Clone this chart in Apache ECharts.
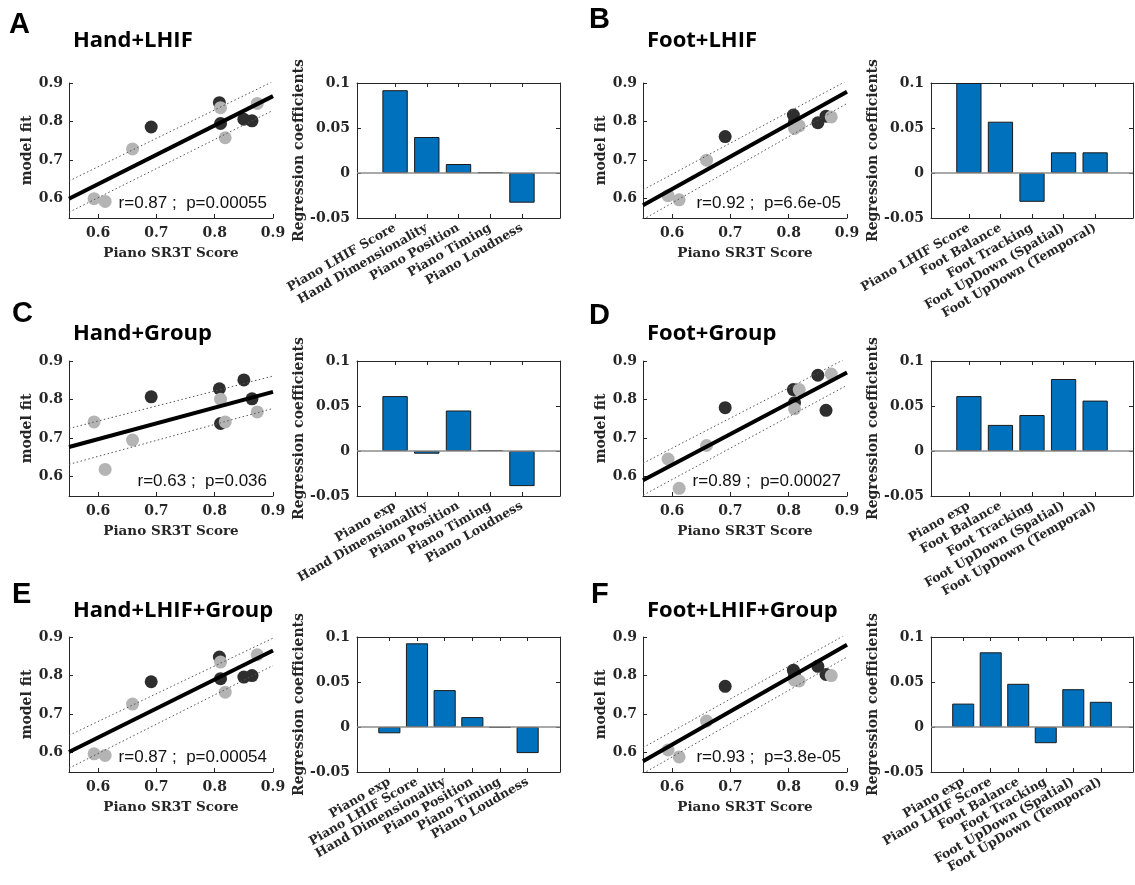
<!DOCTYPE html>
<html>
<head>
<meta charset="utf-8">
<script src="https://cdn.jsdelivr.net/npm/echarts@6/dist/echarts.min.js"></script>
<style>
html, body { margin: 0; padding: 0; background: #fff; }
#main { width: 1135px; height: 885px; }
</style>
</head>
<body>
<div id="main"></div>
<script>
// panel texts
var panelLetters = ['A', 'B', 'C', 'D', 'E', 'F'];
var panelTitles = ['Hand+LHIF', 'Foot+LHIF', 'Hand+Group', 'Foot+Group', 'Hand+LHIF+Group', 'Foot+LHIF+Group'];
var statTexts = ['r=0.87 ;  p=0.00055', 'r=0.92 ;  p=6.6e-05', 'r=0.63 ;  p=0.036',
	'r=0.89 ;  p=0.00027', 'r=0.87 ;  p=0.00054', 'r=0.93 ;  p=3.8e-05'];

// scatter: Piano SR3T Score (x) for the two groups
var sr3tLight = [0.593, 0.612, 0.659, 0.810, 0.818, 0.873];
var sr3tDark = [0.691, 0.808, 0.810, 0.850, 0.864];
var sr3tTicks = [0.6, 0.7, 0.8, 0.9];
// model fit (y), one row per panel
var fitLight = [
	[0.600, 0.593, 0.729, 0.836, 0.758, 0.847],
	[0.608, 0.597, 0.700, 0.782, 0.789, 0.812],
	[0.742, 0.619, 0.695, 0.801, 0.742, 0.768],
	[0.646, 0.570, 0.681, 0.776, 0.826, 0.866],
	[0.597, 0.593, 0.726, 0.835, 0.757, 0.854],
	[0.607, 0.589, 0.682, 0.788, 0.786, 0.800]
];
var fitDark = [
	[0.786, 0.849, 0.795, 0.806, 0.802],
	[0.761, 0.817, 0.800, 0.797, 0.814],
	[0.807, 0.828, 0.738, 0.851, 0.802],
	[0.779, 0.826, 0.792, 0.863, 0.772],
	[0.784, 0.848, 0.792, 0.796, 0.800],
	[0.772, 0.814, 0.800, 0.824, 0.803]
];
// regression line and bounds, y at x = 0.55 and x = 0.9
var lineX = [0.55, 0.9];
var fitLine = [[0.600, 0.866], [0.583, 0.877], [0.677, 0.820], [0.591, 0.870], [0.602, 0.865], [0.578, 0.880]];
var upperBand = [[0.646, 0.904], [0.623, 0.906], [0.725, 0.861], [0.635, 0.908], [0.645, 0.897], [0.613, 0.908]];
var lowerBand = [[0.565, 0.829], [0.546, 0.847], [0.632, 0.777], [0.552, 0.837], [0.560, 0.826], [0.546, 0.848]];

// regression coefficients
var handLhifCats = ['Piano LHIF Score', 'Hand Dimensionality', 'Piano Position', 'Piano Timing', 'Piano Loudness'];
var handLhifCoef = [0.092, 0.040, 0.010, 0.001, -0.033];
var footLhifCats = ['Piano LHIF Score', 'Foot Balance', 'Foot Tracking', 'Foot UpDown (Spatial)', 'Foot UpDown (Temporal)'];
var footLhifCoef = [0.100, 0.057, -0.032, 0.023, 0.023];
var handGroupCats = ['Piano exp', 'Hand Dimensionality', 'Piano Position', 'Piano Timing', 'Piano Loudness'];
var handGroupCoef = [0.061, -0.003, 0.045, 0.001, -0.039];
var footGroupCats = ['Piano exp', 'Foot Balance', 'Foot Tracking', 'Foot UpDown (Spatial)', 'Foot UpDown (Temporal)'];
var footGroupCoef = [0.061, 0.029, 0.040, 0.080, 0.056];
var handAllCats = ['Piano exp', 'Piano LHIF Score', 'Hand Dimensionality', 'Piano Position', 'Piano Timing', 'Piano Loudness'];
var handAllCoef = [-0.007, 0.093, 0.041, 0.011, -0.001, -0.029];
var footAllCats = ['Piano exp', 'Piano LHIF Score', 'Foot Balance', 'Foot Tracking', 'Foot UpDown (Spatial)', 'Foot UpDown (Temporal)'];
var footAllCoef = [0.026, 0.083, 0.048, -0.018, 0.042, 0.028];

var barCats = [handLhifCats, footLhifCats, handGroupCats, footGroupCats, handAllCats, footAllCats];
var barCoef = [handLhifCoef, footLhifCoef, handGroupCoef, footGroupCoef, handAllCoef, footAllCoef];
var barPad = [0.2, 0.2, 0.2, 0.2, 0.17, 0.17];

// layout
var scatterLeft = [69, 643], scatterW = 204;
var barLeft = [357, 931], barW = [203, 202];
var rowTop = [83, 361, 637], plotH = 135;
var titleY = [41, 334, 611];
var letterPos = [[9, 25], [589, 20], [12, 314], [589, 316], [12, 595], [591, 595]];

var axisColor = '#262626';
var serif = 'DejaVu Serif';

function labelStyle(size) {
	return { color: axisColor, fontFamily: serif, fontWeight: 'bold', fontSize: size };
}
function line(show) {
	return { show: show, onZero: false, lineStyle: { color: axisColor, width: 1 } };
}
function ticks(values) {
	var t = { show: true, inside: true, length: 4, lineStyle: { color: axisColor, width: 1 } };
	if (values) t.customValues = values;
	return t;
}

var grids = [], xAxes = [], yAxes = [], series = [], graphics = [];

panelLetters.forEach(function (letter, p) {
	var row = Math.floor(p / 2), col = p % 2;
	var top = rowTop[row];

	// ---- scatter ----
	var gi = grids.length;
	grids.push({ left: scatterLeft[col], top: top, width: scatterW, height: plotH });
	var xi = xAxes.length, yi = yAxes.length;
	xAxes.push({
		type: 'value', gridIndex: gi, position: 'bottom', min: 0.55, max: 0.9,
		name: 'Piano SR3T Score', nameLocation: 'middle', nameGap: 28,
		nameTextStyle: labelStyle(13.5),
		axisLine: line(true), axisTick: ticks(sr3tTicks),
		axisLabel: Object.assign({ customValues: sr3tTicks, margin: 8 }, labelStyle(14)),
		splitLine: { show: false }
	});
	yAxes.push({
		type: 'value', gridIndex: gi, position: 'left', min: 0.55, max: 0.9,
		name: 'model fit', nameLocation: 'middle', nameGap: 35,
		nameTextStyle: labelStyle(14),
		axisLine: line(true), axisTick: ticks(sr3tTicks),
		axisLabel: Object.assign({ customValues: sr3tTicks, margin: 6 }, labelStyle(14)),
		splitLine: { show: false }
	});
	series.push({
		type: 'scatter', xAxisIndex: xi, yAxisIndex: yi, symbolSize: 13,
		itemStyle: { color: '#2e2e2e', opacity: 1 },
		data: sr3tDark.map(function (x, i) { return [x, fitDark[p][i]]; })
	});
	series.push({
		type: 'scatter', xAxisIndex: xi, yAxisIndex: yi, symbolSize: 13,
		itemStyle: { color: '#b4b4b4', opacity: 1 },
		data: sr3tLight.map(function (x, i) { return [x, fitLight[p][i]]; })
	});
	[[upperBand[p], 'dot'], [lowerBand[p], 'dot'], [fitLine[p], 'fit']].forEach(function (l) {
		series.push({
			type: 'line', xAxisIndex: xi, yAxisIndex: yi, symbol: 'none', clip: true, silent: true,
			lineStyle: l[1] == 'fit' ? { color: '#000', width: 4 } : { color: '#555', width: 1, type: [1.5, 2.5] },
			data: [[lineX[0], l[0][0]], [lineX[1], l[0][1]]]
		});
	});

	// ---- bars ----
	var n = barCats[p].length;
	var bi = grids.length;
	grids.push({ left: barLeft[col], top: top, width: barW[col], height: plotH });
	var pos = barCats[p].map(function (c, i) { return i + 1; });
	var bx = xAxes.length, by = yAxes.length;
	var xMin = -barPad[p], xMax = n + 1 + barPad[p];
	xAxes.push({
		type: 'value', gridIndex: bi, position: 'bottom', min: xMin, max: xMax,
		axisLine: line(true), axisTick: ticks(pos),
		axisLabel: Object.assign({
			customValues: pos, interval: 0, hideOverlap: false, rotate: 30, margin: 9,
			formatter: function (v) { return barCats[p][Math.round(v) - 1] || ''; }
		}, labelStyle(12.5)),
		splitLine: { show: false }
	});
	xAxes.push({
		type: 'value', gridIndex: bi, position: 'top', min: xMin, max: xMax,
		axisLine: line(true), axisTick: ticks(pos), axisLabel: { show: false }, splitLine: { show: false }
	});
	yAxes.push({
		type: 'value', gridIndex: bi, position: 'left', min: -0.05, max: 0.1, interval: 0.05,
		name: 'Regression coefficients', nameLocation: 'middle', nameGap: 51,
		nameTextStyle: labelStyle(14),
		axisLine: line(true), axisTick: ticks(),
		axisLabel: Object.assign({ margin: 7 }, labelStyle(14)),
		splitLine: { show: false }
	});
	yAxes.push({
		type: 'value', gridIndex: bi, position: 'right', min: -0.05, max: 0.1, interval: 0.05,
		axisLine: line(true), axisTick: ticks(), axisLabel: { show: false }, splitLine: { show: false }
	});
	series.push({
		type: 'bar', xAxisIndex: bx, yAxisIndex: by,
		barWidth: barW[col] / (xMax - xMin) * 0.8,
		itemStyle: { color: '#0072BD', borderColor: '#1a1a1a', borderWidth: 1 },
		data: barCoef[p].map(function (v, i) { return [i + 1, v]; }),
		markLine: {
			silent: true, symbol: ['none', 'none'], label: { show: false },
			lineStyle: { color: '#8c8c8c', width: 1.5, type: 'solid' },
			data: [{ yAxis: 0 }]
		}
	});

	// ---- texts ----
	graphics.push({
		type: 'text', x: letterPos[p][0], y: letterPos[p][1],
		style: { text: letter, font: 'bold 29px "Liberation Sans"', fill: '#000', verticalAlign: 'middle' }
	});
	graphics.push({
		type: 'text', x: scatterLeft[col] + 4, y: titleY[row],
		style: { text: panelTitles[p], font: 'bold 22px "Open Sans"', fill: '#000', verticalAlign: 'middle' }
	});
	graphics.push({
		type: 'text', x: scatterLeft[col] + scatterW - 6, y: top + plotH - 15,
		style: { text: statTexts[p], font: '17px "Liberation Sans"', fill: '#111', align: 'right', verticalAlign: 'middle' }
	});
});

var myChart = echarts.init(document.getElementById('main'));
myChart.setOption({
	animation: false,
	backgroundColor: '#fff',
	grid: grids,
	xAxis: xAxes,
	yAxis: yAxes,
	series: series,
	graphic: graphics
});
</script>
</body>
</html>
